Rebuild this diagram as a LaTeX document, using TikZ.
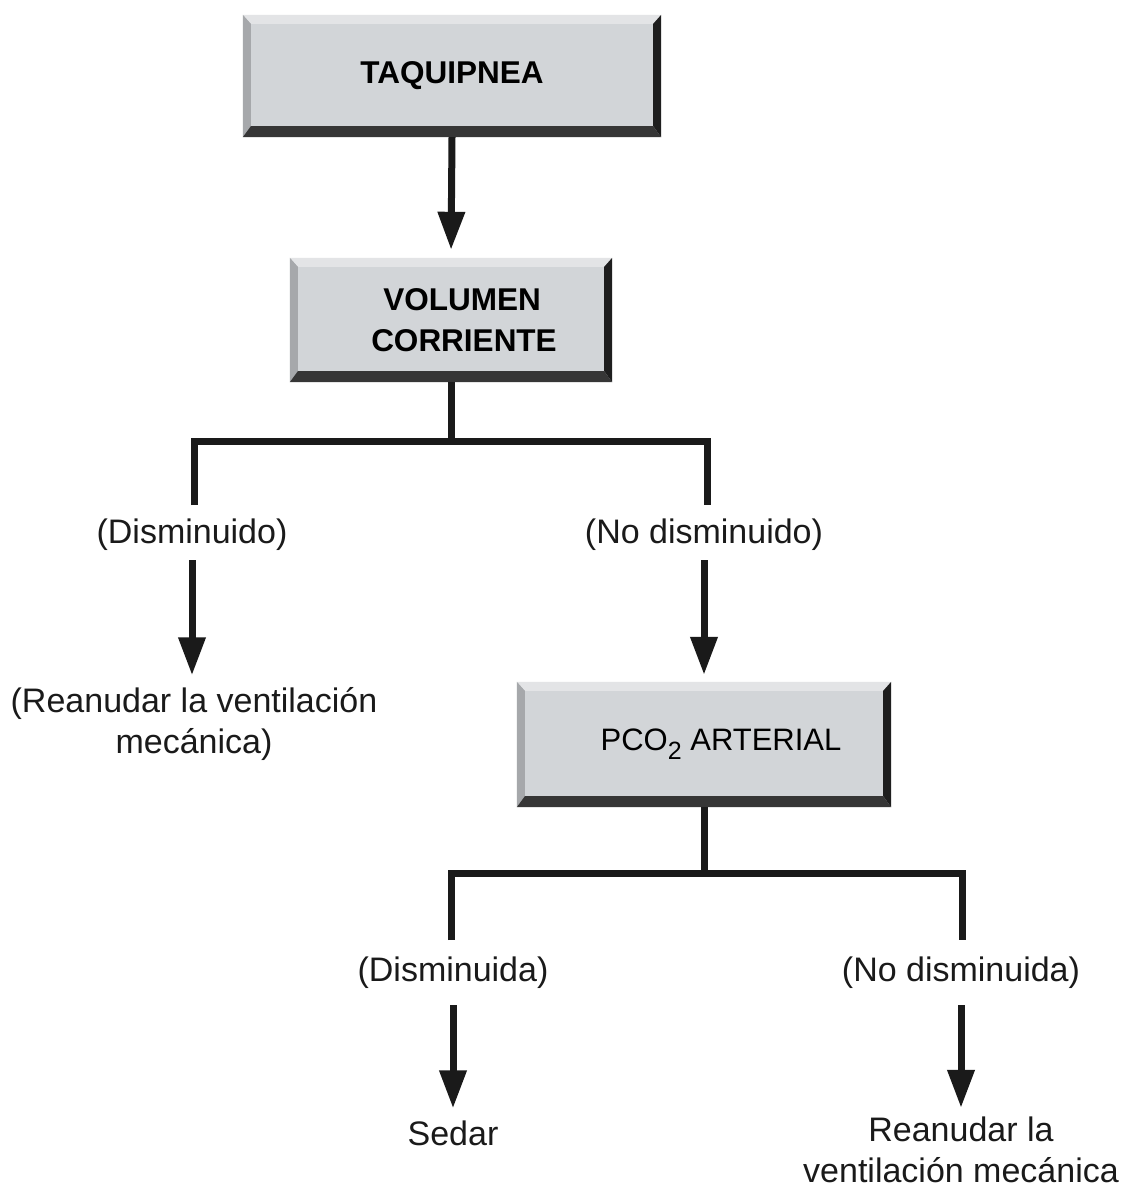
\documentclass[tikz,border=0pt]{standalone}
\usepackage{fontspec}
\setmainfont{Liberation Sans}
\usetikzlibrary{arrows.meta,calc}

\definecolor{boxface}{HTML}{D2D5D8}
\definecolor{bevtopc}{HTML}{E3E4E6}
\definecolor{bevleftc}{HTML}{A6A8AB}
\definecolor{bevrightc}{HTML}{1E1E1E}
\definecolor{bevbotc}{HTML}{363636}
\definecolor{ink}{HTML}{1A1A1A}

\tikzset{
  boxnode/.style={fill=boxface, inner sep=0pt, align=center,
    font=\bfseries\fontsize{31.5}{41}\selectfont},
  lbl/.style={inner sep=0pt, align=center, text=ink,
    font=\fontsize{34}{41}\selectfont},
  conn/.style={draw=ink, line width=7pt, line join=miter},
  arr/.style={conn, -{Triangle[width=26pt,length=38pt]}},
}

% raised frame around a box node: light top/left, dark right/bottom
\newcommand\bevelbox[1]{%
  \fill[bevtopc] (#1.north west) -- (#1.north east) -- ($(#1.north east)+(-8,9)$)
    -- ($(#1.north west)+(8,9)$) -- cycle;
  \fill[bevleftc] (#1.north west) -- ($(#1.north west)+(8,9)$)
    -- ($(#1.south west)+(8,-11)$) -- (#1.south west) -- cycle;
  \fill[bevrightc] (#1.north east) -- (#1.south east) -- ($(#1.south east)+(-8,-11)$)
    -- ($(#1.north east)+(-8,9)$) -- cycle;
  \fill[bevbotc] (#1.south west) -- (#1.south east) -- ($(#1.south east)+(-8,-11)$)
    -- ($(#1.south west)+(8,-11)$) -- cycle;
}

\begin{document}
\begin{tikzpicture}[x=1pt, y=-1pt]
\useasboundingbox[fill=white] (0,0) rectangle (1122,1191);

% boxes
\node[boxnode, minimum width=418pt, minimum height=122pt] (taq) at (452,76) {TAQUIPNEA};
\bevelbox{taq}
\node[boxnode, minimum width=322pt, minimum height=124pt] (vol) at (451,320)
  {\hspace*{22pt}VOLUMEN\\\hspace*{26pt}CORRIENTE};
\bevelbox{vol}
\node[boxnode, font=\mdseries\fontsize{31}{41}\selectfont, minimum width=374pt, minimum height=125pt]
  (pco) at (704,744.5)
  {\hspace*{34pt}PCO\raisebox{-0.28em}{\fontsize{25}{25}\selectfont 2} ARTERIAL};
\bevelbox{pco}

% labels
\node[lbl] (dis1)   at (192,535)  {(Disminuido)};
\node[lbl] (nodis1) at (704,535)  {(No disminuido)};
\node[lbl] (rv1)    at (194,724)  {(Reanudar la ventilación\\mecánica)};
\node[lbl] (dis2)   at (453,973)  {(Disminuida)};
\node[lbl] (nodis2) at (961,973)  {(No disminuida)};
\node[lbl] (sedar)  at (453,1133) {Sedar};
\node[lbl] (rv2)    at (961,1150) {Reanudar la\\ventilación mecánica};

% branch points
\coordinate (b1)  at (451,441);
\coordinate (l1)  at (194,505);
\coordinate (r1)  at (707,505);
\coordinate (b2)  at (704,873);
\coordinate (l2)  at (451,940);
\coordinate (r2)  at (962,940);

% connectors
\draw[arr, shorten >=8pt] (taq.south) -- (vol.north);
\draw[conn] (vol.south) -- (b1);
\draw[conn] (l1) |- (b1) -| (r1);
\draw[arr, shorten <=9pt, shorten >=12pt] (dis1) -- (dis1 |- rv1.north);
\draw[arr, shorten <=9pt, shorten >=7pt] (nodis1) -- (nodis1 |- pco.north);
\draw[conn] (pco.south) -- (b2);
\draw[conn] (l2) |- (b2) -| (r2);
\draw[arr, shorten <=16pt, shorten >=12pt] (dis2) -- (sedar);
\draw[arr, shorten <=16pt, shorten >=9pt] (nodis2) -- (nodis2 |- rv2.north);
\end{tikzpicture}
\end{document}
